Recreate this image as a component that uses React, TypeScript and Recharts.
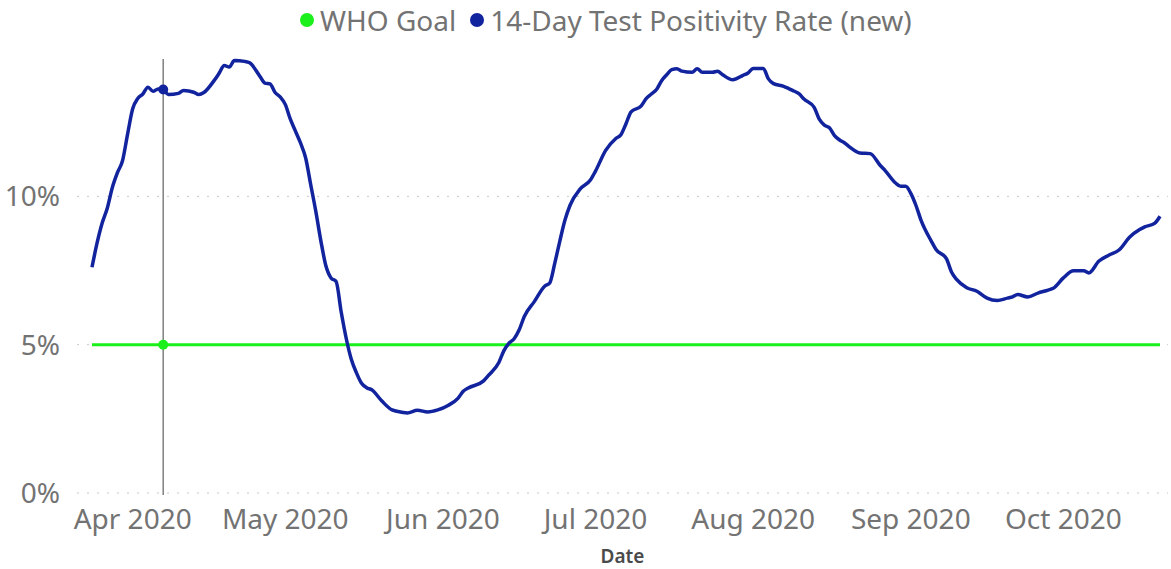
import React from 'react';
import { LineChart, Line, XAxis, YAxis, CartesianGrid, Legend, ReferenceLine, ReferenceDot } from 'recharts';

// daily dates (not every day, just where the shape changes)
const dates = [
  '2020-03-24', '2020-03-25', '2020-03-26', '2020-03-27', '2020-03-28', '2020-03-29', '2020-03-30', '2020-03-31',
  '2020-04-01', '2020-04-02', '2020-04-03', '2020-04-04', '2020-04-05', '2020-04-06', '2020-04-07', '2020-04-08',
  '2020-04-10', '2020-04-11', '2020-04-13', '2020-04-14', '2020-04-15', '2020-04-17', '2020-04-18', '2020-04-19',
  '2020-04-20', '2020-04-21', '2020-04-23', '2020-04-24', '2020-04-26', '2020-04-27', '2020-04-28', '2020-04-29',
  '2020-04-30', '2020-05-01', '2020-05-02', '2020-05-03', '2020-05-04', '2020-05-05', '2020-05-06', '2020-05-07',
  '2020-05-08', '2020-05-09', '2020-05-10', '2020-05-11', '2020-05-12', '2020-05-13', '2020-05-14', '2020-05-15',
  '2020-05-16', '2020-05-17', '2020-05-18', '2020-05-20', '2020-05-22', '2020-05-24', '2020-05-25', '2020-05-27',
  '2020-05-29', '2020-05-31', '2020-06-02', '2020-06-04', '2020-06-05', '2020-06-06', '2020-06-09', '2020-06-10',
  '2020-06-12', '2020-06-13', '2020-06-14', '2020-06-15', '2020-06-16', '2020-06-17', '2020-06-19', '2020-06-21',
  '2020-06-22', '2020-06-23', '2020-06-24', '2020-06-25', '2020-06-26', '2020-06-28', '2020-06-30', '2020-07-01',
  '2020-07-03', '2020-07-05', '2020-07-06', '2020-07-07', '2020-07-08', '2020-07-10', '2020-07-11', '2020-07-12',
  '2020-07-13', '2020-07-14', '2020-07-15', '2020-07-16', '2020-07-17', '2020-07-18', '2020-07-20', '2020-07-21',
  '2020-07-22', '2020-07-24', '2020-07-25', '2020-07-26', '2020-07-28', '2020-07-30', '2020-07-31', '2020-08-01',
  '2020-08-03', '2020-08-04', '2020-08-05', '2020-08-07', '2020-08-09', '2020-08-10', '2020-08-11', '2020-08-13',
  '2020-08-14', '2020-08-15', '2020-08-16', '2020-08-17', '2020-08-18', '2020-08-19', '2020-08-20', '2020-08-22',
  '2020-08-24', '2020-08-26', '2020-08-27', '2020-08-29', '2020-08-30', '2020-08-31', '2020-09-01', '2020-09-02',
  '2020-09-03', '2020-09-05', '2020-09-06', '2020-09-08', '2020-09-09', '2020-09-10', '2020-09-12', '2020-09-14',
  '2020-09-16', '2020-09-18', '2020-09-20', '2020-09-21', '2020-09-22', '2020-09-24', '2020-09-26', '2020-09-28',
  '2020-09-29', '2020-10-01', '2020-10-03', '2020-10-05', '2020-10-06', '2020-10-08', '2020-10-10', '2020-10-12',
  '2020-10-14', '2020-10-16', '2020-10-17', '2020-10-19', '2020-10-20',
];

// 14-day test positivity rate, %
const positivity = [
  7.61, 8.43, 9.1, 9.6, 10.3, 10.8, 11.2, 12.1,
  12.95, 13.3, 13.45, 13.68, 13.54, 13.62, 13.6, 13.43,
  13.47, 13.57, 13.51, 13.43, 13.5, 13.9, 14.15, 14.41,
  14.36, 14.58, 14.55, 14.5, 14.05, 13.82, 13.79, 13.5,
  13.35, 13.1, 12.6, 12.2, 11.8, 11.3, 10.4, 9.5,
  8.5, 7.65, 7.25, 7.13, 6.1, 5.2, 4.5, 4.05,
  3.7, 3.55, 3.48, 3.1, 2.8, 2.72, 2.7, 2.79,
  2.73, 2.8, 2.95, 3.2, 3.43, 3.54, 3.78, 3.97,
  4.4, 4.8, 5.05, 5.2, 5.5, 5.95, 6.46, 6.97,
  7.08, 7.75, 8.5, 9.2, 9.7, 10.25, 10.55, 10.85,
  11.55, 11.95, 12.08, 12.45, 12.85, 13.05, 13.3, 13.45,
  13.6, 13.9, 14.1, 14.27, 14.3, 14.22, 14.18, 14.3,
  14.18, 14.18, 14.22, 14.1, 13.93, 14.08, 14.16, 14.31,
  14.31, 13.96, 13.8, 13.71, 13.55, 13.46, 13.28, 13.0,
  12.6, 12.4, 12.31, 12.05, 11.9, 11.8, 11.66, 11.46,
  11.44, 11.04, 10.86, 10.45, 10.34, 10.34, 10.1, 9.7,
  9.2, 8.5, 8.2, 7.9, 7.45, 7.2, 6.92, 6.8,
  6.57, 6.49, 6.57, 6.61, 6.69, 6.61, 6.74, 6.84,
  6.9, 7.25, 7.49, 7.49, 7.42, 7.82, 8.02, 8.2,
  8.62, 8.88, 8.97, 9.1, 9.33,
];

const whoGoal = 5;
const monthTicks = ['2020-04-01', '2020-05-01', '2020-06-01', '2020-07-01', '2020-08-01', '2020-09-01', '2020-10-01'];
const yTicks = [0, 5, 10];
const hoverDate = '2020-04-07';

const MONTHS = ['Jan', 'Feb', 'Mar', 'Apr', 'May', 'Jun', 'Jul', 'Aug', 'Sep', 'Oct', 'Nov', 'Dec'];
const toTime = (d: string) => Date.parse(d + 'T00:00:00Z');
const fmtMonth = (t: number) => {
  const d = new Date(t);
  return `${MONTHS[d.getUTCMonth()]} ${d.getUTCFullYear()}`;
};

const data = dates.map((d, i) => ({ t: toTime(d), goal: whoGoal, rate: positivity[i] }));
const hoverT = toTime(hoverDate);
const hoverRate = positivity[dates.indexOf(hoverDate)];

const BLUE = '#12239E';
const GREEN = '#1CF01C';
const TEXT = '#737373';
const FONT = "'Noto Sans', 'Open Sans', sans-serif";

const LegendContent = () => (
  <div style={{ display: 'flex', alignItems: 'center', fontFamily: FONT, fontSize: 28, color: TEXT, whiteSpace: 'nowrap', lineHeight: '38px' }}>
    <span style={{ width: 14, height: 14, borderRadius: 7, background: GREEN, marginRight: 6 }} />
    <span style={{ marginRight: 14 }}>WHO Goal</span>
    <span style={{ width: 14, height: 14, borderRadius: 7, background: BLUE, marginRight: 6 }} />
    <span>14-Day Test Positivity Rate (new)</span>
  </div>
);

export default function App() {
  return (
    <div style={{ position: 'absolute', left: 0, top: 0, background: '#fff' }}>
      <LineChart width={1171} height={569} data={data} margin={{ top: 59, right: 3, bottom: 6, left: 0 }}>
        <CartesianGrid vertical={false} horizontalValues={yTicks} stroke="#c8c8c8" strokeDasharray="2 8" />
        <XAxis
          type="number"
          dataKey="t"
          domain={[data[0].t, data[data.length - 1].t]}
          ticks={monthTicks.map(toTime)}
          tickFormatter={fmtMonth}
          padding={{ left: 15, right: 8 }}
          axisLine={false}
          tickLine={false}
          tickSize={0}
          tickMargin={14}
          height={68}
          tick={{ fill: TEXT, fontSize: 28, fontFamily: FONT }}
          label={{ value: 'Date', position: 'insideBottom', offset: 0, fill: '#4a4a4a', fontSize: 19, fontWeight: 600, fontFamily: FONT }}
        />
        <YAxis
          type="number"
          domain={[0, 14.63]}
          ticks={yTicks}
          tickFormatter={(v: number) => `${v}%`}
          axisLine={false}
          tickLine={false}
          tickSize={0}
          tickMargin={17}
          width={77}
          padding={{ top: 0, bottom: 2 }}
          tick={{ fill: TEXT, fontSize: 28, fontFamily: FONT }}
        />
        <Legend verticalAlign="middle" align="center" wrapperStyle={{ top: 1, left: 300, width: 'auto' }} content={LegendContent} />
        <ReferenceLine x={hoverT} stroke="#808080" strokeWidth={1.5} />
        <Line type="linear" dataKey="goal" name="WHO Goal" stroke={GREEN} strokeWidth={3} dot={false} activeDot={false} isAnimationActive={false} />
        <Line type="monotone" dataKey="rate" name="14-Day Test Positivity Rate (new)" stroke={BLUE} strokeWidth={3.5} dot={false} activeDot={false} isAnimationActive={false} />
        <ReferenceDot x={hoverT} y={whoGoal} r={5} fill={GREEN} stroke="none" />
        <ReferenceDot x={hoverT} y={hoverRate} r={5} fill={BLUE} stroke="none" />
      </LineChart>
    </div>
  );
}
